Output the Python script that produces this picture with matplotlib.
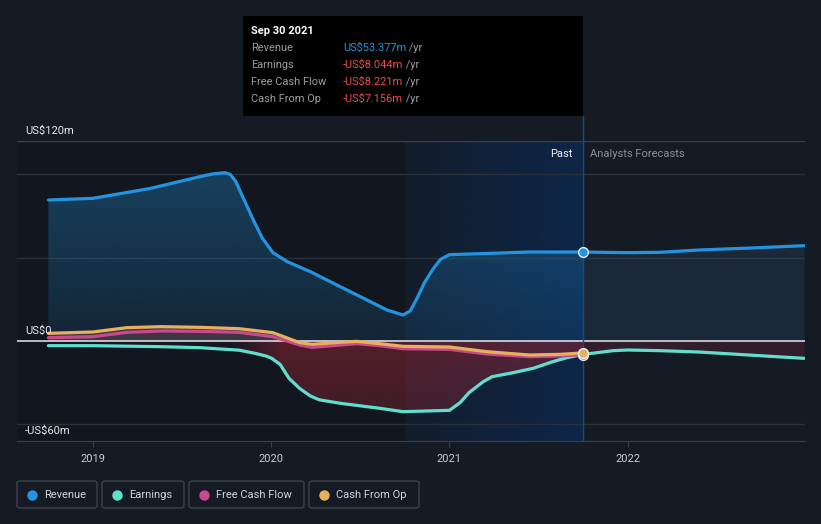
import matplotlib

matplotlib.use("Agg")

import numpy as np
import matplotlib.pyplot as plt
from matplotlib.patches import FancyBboxPatch, Rectangle
from matplotlib.text import Annotation
from matplotlib.colors import to_rgb

plt.rcParams['font.family'] = ['Roboto', 'DejaVu Sans']

# values in US$m, x as decimal years
rev_t = [2018.75, 2019.0, 2019.32, 2019.6, 2019.67, 2019.74, 2019.77, 2019.8, 2019.84,
         2019.9, 2019.95, 2020.01, 2020.09, 2020.22, 2020.35, 2020.5, 2020.65, 2020.74,
         2020.78, 2020.82, 2020.86, 2020.91, 2020.95, 2021.0, 2021.17, 2021.45, 2021.75]
rev_v = [84.6, 85.6, 91.5, 98.6, 100.2, 101.0, 100.0, 96.0, 86.6,
         72.6, 61.8, 53.0, 47.6, 41.6, 34.6, 26.6, 18.6, 15.6,
         18.0, 26.0, 35.0, 43.5, 49.0, 51.8, 52.4, 53.4, 53.377]
rev_fc_t = [2021.75, 2022.0, 2022.18, 2022.4, 2022.74, 2022.99]
rev_fc_v = [53.377, 53.0, 53.2, 54.6, 56.0, 57.2]

earn_t = [2018.75, 2019.0, 2019.38, 2019.6, 2019.82, 2019.91, 2019.97, 2020.0, 2020.05,
          2020.1, 2020.16, 2020.22, 2020.27, 2020.39, 2020.61, 2020.74, 2021.0, 2021.06,
          2021.11, 2021.19, 2021.24, 2021.34, 2021.47, 2021.58, 2021.66, 2021.75]
earn_v = [-2.8, -2.8, -3.4, -4.0, -5.5, -7.4, -9.0, -10.2, -14.0,
          -22.4, -28.5, -33.0, -35.3, -37.4, -40.4, -42.4, -41.6, -37.0,
          -31.0, -24.4, -21.4, -19.4, -16.4, -12.4, -10.0, -8.044]
earn_fc_t = [2021.75, 2021.92, 2022.0, 2022.18, 2022.4, 2022.74, 2022.99]
earn_fc_v = [-8.044, -5.8, -5.4, -5.8, -6.6, -8.8, -10.4]

cf_t = [2018.75, 2019.0, 2019.19, 2019.38, 2019.6, 2019.82, 2020.01, 2020.16, 2020.23,
        2020.39, 2020.48, 2020.61, 2020.74, 2021.0, 2021.21, 2021.45, 2021.62, 2021.75]
fcf_v = [2.0, 2.6, 5.2, 6.0, 5.8, 5.2, 2.6, -2.4, -3.8,
         -2.4, -1.6, -2.8, -4.6, -5.0, -7.8, -9.4, -9.0, -8.221]
cfo_v = [4.6, 5.4, 8.0, 8.6, 8.2, 7.4, 5.0, -1.0, -2.0,
         -0.8, -0.2, -1.6, -3.2, -3.6, -6.4, -8.4, -8.0, -7.156]

years = [2019, 2020, 2021, 2022]
y_labels = {120: 'US$120m', 0: 'US$0', -60: '-US$60m'}
tip_rows = [('Revenue', 'US$53.377m'), ('Earnings', '-US$8.044m'),
            ('Free Cash Flow', '-US$8.221m'), ('Cash From Op', '-US$7.156m')]
series = ['Revenue', 'Earnings', 'Free Cash Flow', 'Cash From Op']

BG = '#151b24'
C_REV = '#2394df'
C_EARN = '#5fe0cf'
C_FCF = '#c94a8c'
C_CFO = '#e8b05c'

W, H = 821, 524
fig = plt.figure(figsize=(W / 100, H / 100), dpi=100, facecolor=BG)


def fx(px):
    return px / W


def fy(py):
    return 1 - py / H


ax = fig.add_axes([fx(17), fy(441), (805 - 17) / W, 300 / H])
ax.set_facecolor(BG)
x0, x1 = 2018.574, 2022.995
past_start, past_end = 2020.75, 2021.75


def grad_img(ax, extent, rgba, clip=None, z=1):
    im = ax.imshow(rgba, extent=extent, origin='upper', aspect='auto',
                   interpolation='bilinear', zorder=z)
    if clip is not None:
        im.set_clip_path(clip.get_paths()[0], ax.transData)
    return im


# darker past area and highlighted last-year band
ax.axvspan(x0, past_start, color='#000000', alpha=0.13, lw=0, zorder=0)
band = np.zeros((1, 100, 4))
band[..., :3] = to_rgb('#0b2a55')
band[..., 3] = np.linspace(0.15, 0.75, 100)
grad_img(ax, [past_start, past_end, -60, 120], band, z=0.5)

# grid
for g in [100, 50, -50]:
    ax.axhline(g, color='#2a303a', lw=1, zorder=0.6)
ax.axhline(120, color='#3a404a', lw=1, zorder=0.6)

# revenue fill (past)
poly = ax.fill_between(rev_t, rev_v, 0, facecolor='none', edgecolor='none')
g = np.zeros((100, 1, 4))
g[..., :3] = to_rgb(C_REV)
g[..., 3] = np.linspace(0.33, 0.12, 100)[:, None]
grad_img(ax, [rev_t[0], rev_t[-1], 0, max(rev_v)], g, poly, z=1)
# revenue fill (forecast)
ax.fill_between(rev_fc_t, rev_fc_v, 0, color='#2f5a80', alpha=0.22, lw=0, zorder=1)

# red fill below zero (earnings)
poly = ax.fill_between(earn_t, earn_v, 0, facecolor='none', edgecolor='none')
xs = np.linspace(earn_t[0], earn_t[-1], 200)
ax_a = np.clip((xs - 2019.75) / 0.3, 0.05, 1.0)
vy = np.linspace(1.0, 0.7, 100)
r = np.zeros((100, 200, 4))
r[..., :3] = to_rgb('#8a2433')
r[..., 3] = 0.55 * vy[:, None] * ax_a[None, :]
grad_img(ax, [earn_t[0], earn_t[-1], min(earn_v), 0], r, poly, z=1.2)
ax.fill_between(earn_fc_t, earn_fc_v, 0, color='#6a2236', alpha=0.35, lw=0, zorder=1.2)

# cash flow fills above zero
ax.fill_between(cf_t, cfo_v, 0, where=np.array(cfo_v) > -0.5, color='#b86a70',
                alpha=0.25, lw=0, zorder=1.3, interpolate=True)

ax.axhline(0, color='#e8e8ee', lw=1.1, zorder=2)

lw = 2.3
kw = dict(lw=lw, solid_capstyle='round', solid_joinstyle='round')
ax.plot(rev_t, rev_v, color=C_REV, zorder=4, **kw)
ax.plot(rev_fc_t, rev_fc_v, color=C_REV, zorder=4, **kw)
ax.plot(earn_t, earn_v, color=C_EARN, zorder=3.5, **kw)
ax.plot(earn_fc_t, earn_fc_v, color=C_EARN, zorder=3.5, **kw)
ax.plot(cf_t, fcf_v, color=C_FCF, zorder=3.6, **kw)
ax.plot(cf_t, cfo_v, color=C_CFO, zorder=3.7, **kw)

# marker dots at the last reported point
ax.plot(rev_t[-1], rev_v[-1], 'o', ms=7, mfc=C_REV, mec='#e6eef8', mew=1, zorder=6)
ax.plot(earn_t[-1], earn_v[-1], 'o', ms=7, mfc=C_EARN, mec='#e6eef8', mew=1, zorder=6)
ax.plot(cf_t[-1], fcf_v[-1], 'o', ms=7, mfc=C_FCF, mec='#e6eef8', mew=1, zorder=6)
ax.plot(cf_t[-1], cfo_v[-1], 'o', ms=7, mfc=C_CFO, mec='#e6eef8', mew=1, zorder=6)

ax.axvline(past_end, color='#1e4a7a', lw=1, zorder=2.5)

ax.set_xlim(x0, x1)
ax.set_ylim(-60, 120)
for s in ['top', 'right', 'left']:
    ax.spines[s].set_visible(False)
ax.spines['bottom'].set_color('#3a404a')
ax.set_xticks(years)
ax.set_xticklabels([str(y) for y in years])
ax.tick_params(axis='x', colors='#3a404a', labelcolor='#c8ccd2', labelsize=8,
               length=4, pad=5)
ax.set_yticks([])

for v, lab in y_labels.items():
    ax.annotate(lab, xy=(0, v), xycoords=('axes fraction', 'data'), xytext=(8, 5),
                textcoords='offset pixels', color='#e6e8eb', fontsize=8,
                va='bottom', ha='left', zorder=7)

ax.text(2021.69, 115, 'Past', color='#f0f0f0', fontsize=8, ha='right', va='top', zorder=7)
ax.text(2021.79, 115, 'Analysts Forecasts', color='#8b9099', fontsize=8, ha='left',
        va='top', zorder=7)

# tooltip
fig.patches.append(Rectangle((fx(243), fy(116)), (583 - 243) / W, 100 / H,
                             transform=fig.transFigure, facecolor='#000000',
                             edgecolor='none', zorder=5))
fig.lines.append(plt.Line2D([fx(583), fx(583)], [fy(116), fy(141)],
                            transform=fig.transFigure, color='#1e4a7a', lw=1))
fig.text(fx(251), fy(31), 'Sep 30 2021', color='#ffffff', fontsize=8, fontweight='bold',
         va='center', ha='left', zorder=6)
for i, (lab, val) in enumerate(tip_rows):
    yc = 48 + 17 * i
    fig.lines.append(plt.Line2D([fx(251), fx(576)], [fy(yc - 9), fy(yc - 9)],
                                transform=fig.transFigure, color='#3a3d42', lw=0.8))
    fig.text(fx(251), fy(yc), lab, color='#9a9da3', fontsize=7.9, va='center',
             ha='left', zorder=6)
    vc = C_REV if i == 0 else '#f04a4a'
    t = fig.text(fx(343), fy(yc), val, color=vc, fontsize=7.9, va='center',
                 ha='left', zorder=6)
    yr = Annotation(' /yr', xy=(1, 0.5), xycoords=t, color='#9a9da3', fontsize=7.9,
                    va='center', ha='left', annotation_clip=False)
    yr.set_zorder(6)
    fig.add_artist(yr)
fig.lines.append(plt.Line2D([fx(251), fx(576)], [fy(107), fy(107)],
                            transform=fig.transFigure, color='#3a3d42', lw=0.8))

# legend boxes
boxes = [(17, 97), (102, 184), (189, 304), (309, 419)]
colors = [C_REV, C_EARN, C_FCF, C_CFO]
for (bx0, bx1), name, c in zip(boxes, series, colors):
    fig.patches.append(FancyBboxPatch((fx(bx0), fy(508)), (bx1 - bx0) / W, 27 / H,
                                      boxstyle='round,pad=0,rounding_size=0.004',
                                      transform=fig.transFigure, facecolor='none',
                                      edgecolor='#3c414a', lw=1))
    fig.lines.append(plt.Line2D([fx(bx0 + 15)], [fy(494.5)], transform=fig.transFigure,
                                marker='o', ms=6.5, color=c, mec=c))
    fig.text(fx(bx0 + 27), fy(494.5), name, color='#d2d5da', fontsize=8,
             va='center', ha='left')

fig.savefig('out.png', dpi=100, facecolor=BG)
plt.close()
